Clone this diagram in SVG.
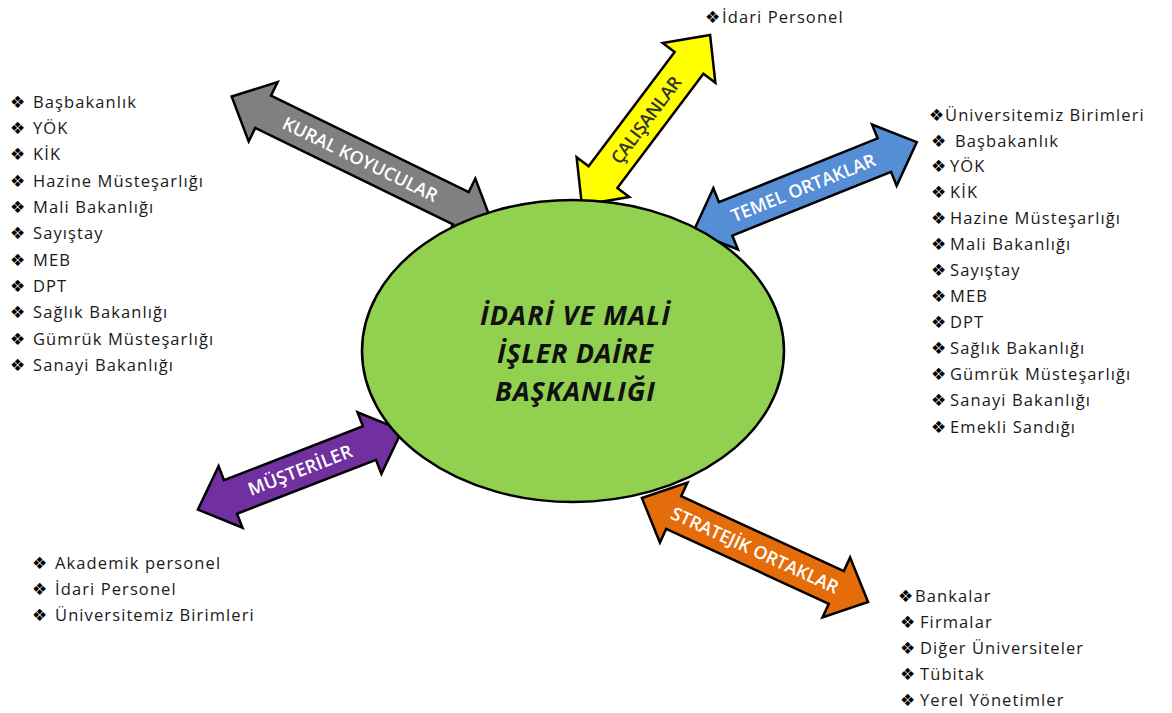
<svg xmlns="http://www.w3.org/2000/svg" width="1172" height="713" viewBox="0 0 1172 713">
<style>
.arr{stroke:#000;stroke-width:2.5;stroke-linejoin:miter}
.lbl{font-family:"Open Sans","Liberation Sans",sans-serif;font-size:18px;font-weight:600;text-anchor:middle}
.li{font-family:"Open Sans","Liberation Sans",sans-serif;font-size:16.5px;fill:#1a1a1a;letter-spacing:1.1px}
.bu{font-family:"DejaVu Sans",sans-serif;font-size:17px;fill:#000}
.ctr{font-family:"Open Sans","Liberation Sans",sans-serif;font-size:27px;font-weight:700;font-style:italic;fill:#111;text-anchor:middle}
</style>
<rect width="1172" height="713" fill="#fff"/>
<g id="connectors">
  <g id="kural" transform="translate(362,160) rotate(26)">
    <polygon class="arr" fill="#808080" points="-145,0 -110,-33 -110,-18 110,-18 110,-33 145,0 110,33 110,18 -110,18 -110,33"/>
    <text class="lbl" fill="#fff" x="-2" y="6.5" textLength="170">KURAL KOYUCULAR</text>
  </g>
  <g id="calisanlar" transform="translate(646,120) rotate(-53)">
    <polygon class="arr" fill="#ffff00" points="-106.5,0 -71.5,-33 -71.5,-18 71.5,-18 71.5,-33 106.5,0 71.5,33 71.5,18 -71.5,18 -71.5,33"/>
    <text class="lbl" fill="#333" x="0" y="6.5" textLength="104">ÇALIŞANLAR</text>
  </g>
  <g id="temel" transform="translate(805,187) rotate(-21.9)">
    <polygon class="arr" fill="#558ed5" points="-120.5,0 -85.5,-33 -85.5,-18 85.5,-18 85.5,-33 120.5,0 85.5,33 85.5,18 -85.5,18 -85.5,33"/>
    <text class="lbl" fill="#fff" x="-2" y="6.5" textLength="154">TEMEL ORTAKLAR</text>
  </g>
  <g id="musteriler" transform="translate(300,470) rotate(-21.2)">
    <polygon class="arr" fill="#7030a0" points="-109.5,0 -74.5,-33 -74.5,-18 74.5,-18 74.5,-33 109.5,0 74.5,33 74.5,18 -74.5,18 -74.5,33"/>
    <text class="lbl" fill="#fff" x="0" y="6.5" textLength="110">MÜŞTERİLER</text>
  </g>
  <g id="stratejik" transform="translate(755,550) rotate(24.7)">
    <polygon class="arr" fill="#e46c0a" points="-124.5,0 -89.5,-33 -89.5,-18 89.5,-18 89.5,-33 124.5,0 89.5,33 89.5,18 -89.5,18 -89.5,33"/>
    <text class="lbl" fill="#fff" x="0" y="6.5" textLength="182">STRATEJİK ORTAKLAR</text>
  </g>
</g>
<g id="center">
  <ellipse cx="573" cy="351" rx="211" ry="151" fill="#92d050" stroke="#000" stroke-width="2.5"/>
  <text class="ctr" x="575" y="325" textLength="190">İDARİ VE MALİ</text>
  <text class="ctr" x="575" y="363" textLength="156">İŞLER DAİRE</text>
  <text class="ctr" x="575" y="401" textLength="160">BAŞKANLIĞI</text>
</g>
<g id="list-top">
  <text class="bu" x="705" y="23">❖</text>
  <text class="li" x="722" y="23">İdari Personel</text>
</g>
<g id="list-kural">
  <text class="bu" x="10" y="108">❖</text><text class="li" x="33" y="108">Başbakanlık</text>
  <text class="bu" x="10" y="134">❖</text><text class="li" x="33" y="134">YÖK</text>
  <text class="bu" x="10" y="160">❖</text><text class="li" x="33" y="160">KİK</text>
  <text class="bu" x="10" y="187">❖</text><text class="li" x="33" y="187">Hazine Müsteşarlığı</text>
  <text class="bu" x="10" y="213">❖</text><text class="li" x="33" y="213">Mali Bakanlığı</text>
  <text class="bu" x="10" y="239">❖</text><text class="li" x="33" y="239">Sayıştay</text>
  <text class="bu" x="10" y="266">❖</text><text class="li" x="33" y="266">MEB</text>
  <text class="bu" x="10" y="292">❖</text><text class="li" x="33" y="292">DPT</text>
  <text class="bu" x="10" y="318">❖</text><text class="li" x="33" y="318">Sağlık Bakanlığı</text>
  <text class="bu" x="10" y="345">❖</text><text class="li" x="33" y="345">Gümrük Müsteşarlığı</text>
  <text class="bu" x="10" y="371">❖</text><text class="li" x="33" y="371">Sanayi Bakanlığı</text>
</g>
<g id="list-temel">
  <text class="bu" x="929" y="121">❖</text><text class="li" x="945" y="121">Üniversitemiz Birimleri</text>
  <text class="bu" x="931" y="147">❖</text><text class="li" x="955" y="147">Başbakanlık</text>
  <text class="bu" x="931" y="172">❖</text><text class="li" x="950" y="172">YÖK</text>
  <text class="bu" x="931" y="198">❖</text><text class="li" x="950" y="198">KİK</text>
  <text class="bu" x="931" y="224">❖</text><text class="li" x="950" y="224">Hazine Müsteşarlığı</text>
  <text class="bu" x="931" y="250">❖</text><text class="li" x="950" y="250">Mali Bakanlığı</text>
  <text class="bu" x="931" y="276">❖</text><text class="li" x="950" y="276">Sayıştay</text>
  <text class="bu" x="931" y="302">❖</text><text class="li" x="950" y="302">MEB</text>
  <text class="bu" x="931" y="328">❖</text><text class="li" x="950" y="328">DPT</text>
  <text class="bu" x="931" y="354">❖</text><text class="li" x="950" y="354">Sağlık Bakanlığı</text>
  <text class="bu" x="931" y="380">❖</text><text class="li" x="950" y="380">Gümrük Müsteşarlığı</text>
  <text class="bu" x="931" y="406">❖</text><text class="li" x="950" y="406">Sanayi Bakanlığı</text>
  <text class="bu" x="931" y="433">❖</text><text class="li" x="950" y="433">Emekli Sandığı</text>
</g>
<g id="list-musteriler">
  <text class="bu" x="32" y="569">❖</text><text class="li" x="55" y="569">Akademik personel</text>
  <text class="bu" x="32" y="595">❖</text><text class="li" x="55" y="595">İdari Personel</text>
  <text class="bu" x="32" y="621">❖</text><text class="li" x="55" y="621">Üniversitemiz Birimleri</text>
</g>
<g id="list-stratejik">
  <text class="bu" x="898" y="602">❖</text><text class="li" x="915" y="602">Bankalar</text>
  <text class="bu" x="900" y="628">❖</text><text class="li" x="920" y="628">Firmalar</text>
  <text class="bu" x="900" y="654">❖</text><text class="li" x="920" y="654">Diğer Üniversiteler</text>
  <text class="bu" x="900" y="680">❖</text><text class="li" x="920" y="680">Tübitak</text>
  <text class="bu" x="900" y="706">❖</text><text class="li" x="920" y="706">Yerel Yönetimler</text>
</g>
</svg>
